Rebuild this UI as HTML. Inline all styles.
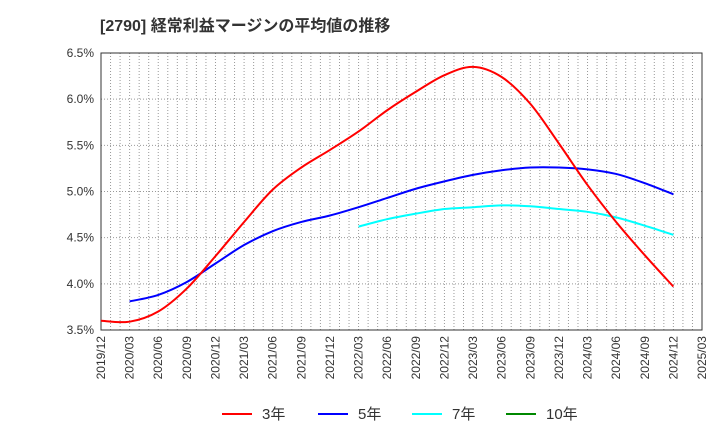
<!DOCTYPE html>
<html><head><meta charset="utf-8"><style>
body{margin:0;background:#fff;font-family:"Liberation Sans","Noto Sans CJK JP",sans-serif;}
svg text{font-family:"Liberation Sans","Noto Sans CJK JP",sans-serif;}
</style></head><body>
<svg id="c" width="720" height="440">
<text x="100" y="31" font-size="16" font-weight="bold" fill="#333">[2790]  経常利益マージンの平均値の推移</text>
<g id="grid"></g><g id="axes"></g><g id="series"></g>
<g>
<line x1="222" y1="414" x2="252" y2="414" stroke="#f00" stroke-width="2"/><text x="262" y="419" font-size="15" fill="#333">3年</text>
<line x1="318" y1="414" x2="348" y2="414" stroke="#00f" stroke-width="2"/><text x="358" y="419" font-size="15" fill="#333">5年</text>
<line x1="412" y1="414" x2="442" y2="414" stroke="#0ff" stroke-width="2"/><text x="452" y="419" font-size="15" fill="#333">7年</text>
<line x1="506" y1="414" x2="536" y2="414" stroke="#080" stroke-width="2"/><text x="546" y="419" font-size="15" fill="#333">10年</text>
</g>
</svg>
<script>
const xLabels=["2019/12","2020/03","2020/06","2020/09","2020/12","2021/03","2021/06","2021/09","2021/12","2022/03","2022/06","2022/09","2022/12","2023/03","2023/06","2023/09","2023/12","2024/03","2024/06","2024/09","2024/12","2025/03"];
const yTicks=[3.5,4.0,4.5,5.0,5.5,6.0,6.5];
const s3=[3.60,3.59,3.70,3.95,4.30,4.67,5.02,5.26,5.45,5.65,5.88,6.08,6.26,6.35,6.24,5.95,5.52,5.07,4.67,4.31,3.97];
const s5=[null,3.81,3.88,4.02,4.22,4.42,4.57,4.67,4.74,4.83,4.93,5.03,5.11,5.18,5.23,5.26,5.26,5.24,5.19,5.09,4.97];
const s7=[null,null,null,null,null,null,null,null,null,4.62,4.70,4.76,4.81,4.83,4.85,4.84,4.81,4.78,4.72,4.63,4.53];
</script>
<script>
const NS="http://www.w3.org/2000/svg";
const L=101,R=702,T=53,B=330;
const X=i=>L+(R-L)*i/(xLabels.length-1);
const Y=v=>B-(v-3.5)/3*(B-T);
function mk(p,t,a){const e=document.createElementNS(NS,t);for(const k in a)e.setAttribute(k,a[k]);p.appendChild(e);return e;}
const g=document.getElementById('grid'),ax=document.getElementById('axes'),sg=document.getElementById('series');
for(let m=1;m<(xLabels.length-1)*3;m++){const x=L+(R-L)*m/((xLabels.length-1)*3);
const l=mk(g,'line',{x1:x,y1:T,x2:x,y2:B,stroke:'#999','stroke-dasharray':'1,2','stroke-width':1});

}
yTicks.forEach(v=>{const y=Y(v);
const l=mk(g,'line',{x1:L,y1:y,x2:R,y2:y,stroke:'#999','stroke-dasharray':'1,2'});


const t=mk(ax,'text',{x:L-7,y:y+4,'font-size':12,fill:'#333','text-anchor':'end'});t.textContent=v.toFixed(1)+'%';

});
const fr=mk(ax,'rect',{x:L,y:T,width:R-L,height:B-T,fill:'none',stroke:'#333'});


xLabels.forEach((s,i)=>{const x=X(i)+4;
const t=mk(ax,'text',{x:x,y:B+6,'font-size':12,fill:'#333','text-anchor':'end',transform:`rotate(-90 ${x} ${B+6})`});t.textContent=s;

});
function path(arr){const p=[];arr.forEach((v,i)=>{if(v!=null)p.push([X(i),Y(v)]);});
let d=`M${p[0][0]},${p[0][1]}`;
for(let i=0;i<p.length-1;i++){const p0=p[i-1]||p[i],p1=p[i],p2=p[i+1],p3=p[i+2]||p2;
d+=`C${p1[0]+(p2[0]-p0[0])/6},${p1[1]+(p2[1]-p0[1])/6} ${p2[0]-(p3[0]-p1[0])/6},${p2[1]-(p3[1]-p1[1])/6} ${p2[0]},${p2[1]}`;}
return d;}
[[s7,'#0ff','series-7y'],[s5,'#00f','series-5y'],[s3,'#f00','series-3y']].forEach(([a,c,n])=>{
const e=mk(sg,'path',{d:path(a),fill:'none',stroke:c,'stroke-width':2});

});
</script>
</body></html>
